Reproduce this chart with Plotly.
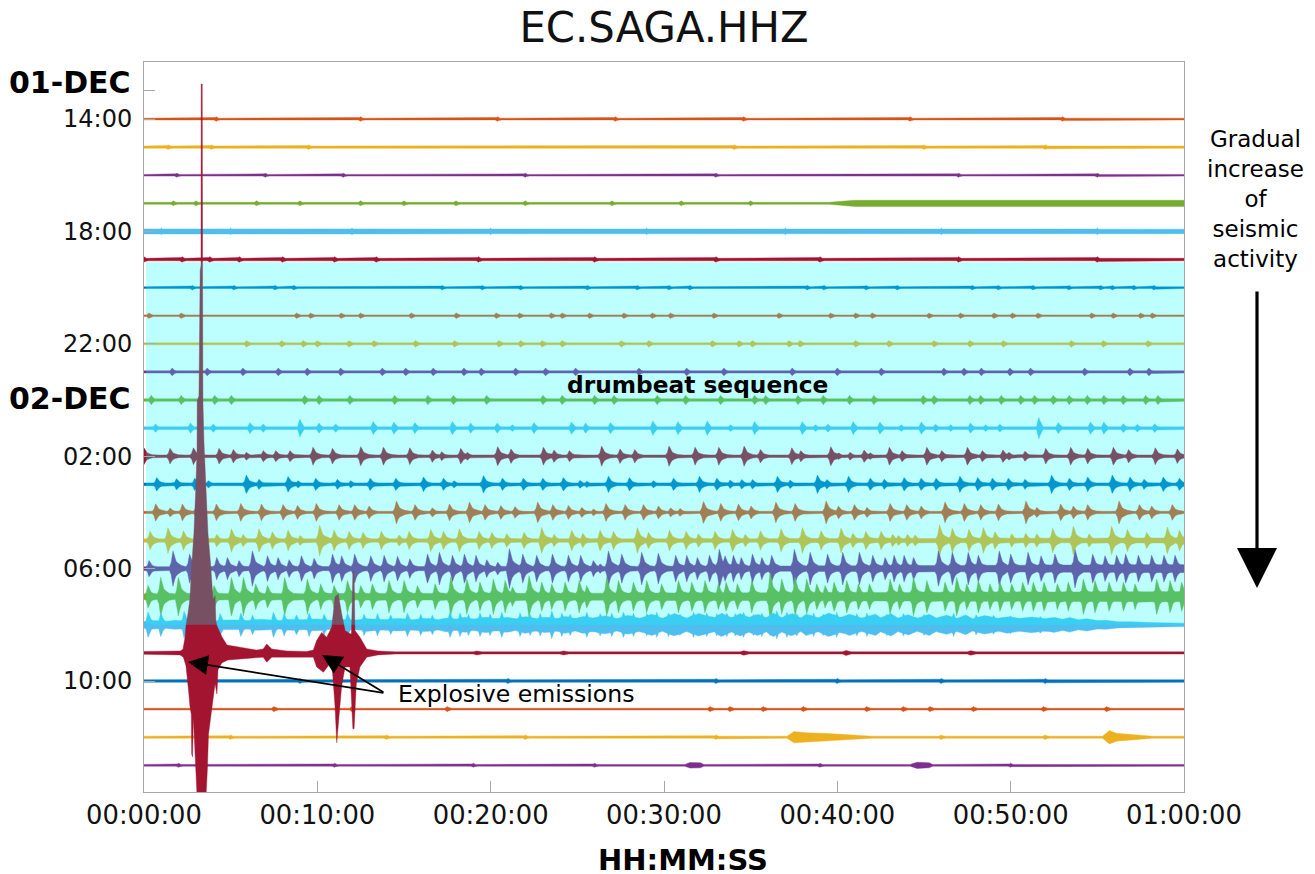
import plotly.graph_objects as go

# ---------- labels ----------
TITLE = "EC.SAGA.HHZ"
X_TICKS = [0, 10, 20, 30, 40, 50, 60]
X_LABELS = ["00:00:00", "00:10:00", "00:20:00", "00:30:00", "00:40:00", "00:50:00", "01:00:00"]
Y_TICKS = [13, 14, 18, 22, 26, 30, 34]
Y_LABELS = ["", "14:00", "18:00", "22:00", "02:00", "06:00", "10:00"]
ROW_COLORS = {0: "#D95319", 1: "#EDB120", 2: "#7E2F8E", 3: "#77AC30", 4: "#4DBEEE", 5: "#A2142F", 6: "#0072BD"}

# ---------- helicorder rows: hour since 01-DEC 00:00 ----------
ROWS = list(range(14, 38))

B32_T = [0, .5, 1.2, 1.8, 2.6, 3.4, 4, 5, 5.9, 6.7, 7.8, 8.4, 9.2, 9.9, 10.7, 11.4, 12.2, 13, 13.8, 14.7, 15.5, 16.3, 17, 17.4, 18, 18.5, 19, 19.7, 20.3, 21, 21.4, 22, 22.6, 23.2, 23.8, 24.3, 24.9, 25.3, 25.9, 26.6, 27.3, 27.9, 28.6, 29.3, 29.9, 30.6, 31.3, 32, 32.9, 33.3, 33.9, 34.4, 34.9, 35.4, 35.9, 36.3, 36.8, 37.4, 37.9, 38.2, 38.9, 39.5, 40.2, 40.7, 41.4, 42.2, 42.5, 43.1, 43.5, 44.1, 44.6, 45.3, 45.7, 46.3, 46.9, 47.4, 47.8, 48.5, 49.3, 49.8, 50.5, 51.2, 52, 52.5, 53, 53.4, 53.9, 54.4, 55, 55.5, 56.2, 57, 58, 59, 60]
B32_A = [.12, .15, .12, .16, .13, .17, .14, .18, .15, .2, .15, .2, .17, .22, .16, .2, .17, .22, .18, .23, .18, .24, .18, .25, .2, .27, .2, .28, .21, .27, .2, .3, .22, .28, .22, .3, .22, .3, .24, .32, .22, .34, .23, .38, .23, .4, .24, .4, .25, .42, .25, .4, .26, .38, .25, .42, .26, .4, .24, .38, .25, .42, .26, .38, .24, .38, .25, .4, .24, .36, .23, .38, .24, .34, .23, .35, .22, .33, .23, .3, .23, .28, .22, .27, .2, .26, .18, .22, .15, .16, .11, .11, .08, .07, .06]

# base half-thickness knots (minute, row units)
BASE = {
    14: ([0, 60], [.03, .03]), 15: ([0, 60], [.04, .04]), 16: ([0, 60], [.03, .03]),
    17: ([0, 39.5, 41, 60], [.035, .035, .11, .11]), 18: ([0, 60], [.09, .08]), 19: ([0, 60], [.045, .045]),
    20: ([0, 60], [.03, .03]), 21: ([0, 60], [.03, .03]), 22: ([0, 60], [.035, .035]),
    23: ([0, 60], [.04, .04]), 24: ([0, 60], [.045, .045]), 25: ([0, 60], [.045, .045]),
    26: ([0, 60], [.045, .045]), 27: ([0, 60], [.05, .05]), 28: ([0, 60], [.04, .04]),
    29: ([0, 30, 60], [.06, .06, .09]), 30: ([0, 30, 60], [.07, .08, .14]), 31: ([0, 30, 60], [.1, .13, .18]),
    32: (B32_T, B32_A),
    34: ([0, 60], [.045, .045]), 35: ([0, 60], [.03, .03]),
    36: ([0, 37.1, 37.5, 38.2, 39.5, 41, 42, 55.3, 55.7, 56.1, 57, 58.2, 60],
        [.035, .035, .2, .16, .13, .07, .035, .035, .24, .14, .09, .035, .035]),
    37: ([0, 31.2, 31.5, 32.1, 32.3, 44.2, 44.6, 45.3, 45.5, 60],
        [.03, .03, .1, .09, .03, .03, .11, .09, .03, .03]),
}

# burst onset times (minutes) and peak half-height (row units)
T14 = [4.17, 12.5, 20.4, 27.2, 34.6, 44.2, 53]
T15 = [1.4, 3.9, 9.5, 34.06, 45, 52]
T16 = [1.9, 7, 11.5, 22, 33, 47, 55]
T17 = [1.7, 3, 6.5, 9, 12.5, 15, 18, 22, 27, 31, 35]
T18 = [1, 5, 12, 20, 29, 37, 46, 55]
T19 = [0, 2.2, 3.8, 5.5, 8, 11, 13.4, 19.3, 26, 33, 39, 47, 55]
T20 = [2.79, 5.19, 7.56, 8.65, 17.21, 19.52, 21.73, 25.58, 28.46, 30.29, 31.5, 38.27, 39.23, 41.67, 43.46, 47.79, 49.29, 51.29, 53.36, 55.19, 55.87, 57.11, 58.27]
T21 = [.29, 2.15, 8.81, 9.62, 11.38, 12.5, 15.42, 18.02, 20.33, 21.67, 23.5, 24.13, 25.71, 27.69, 29.33, 30.38, 32.88, 36.63, 39.62, 41.06, 42.02, 45.29, 47.11, 49.04, 50.1, 51.58, 54.67, 55.92, 57.5, 58.17]
T22 = [5.92, 7.94, 9.19, 10, 11.83, 13.27, 15.67, 17.92, 20.48, 21.73, 22.98, 24.13, 27.54, 29.13, 32.79, 34.33, 35.1, 37.21, 37.85, 41.06, 42.98, 45.58, 47.65, 49.58, 53.5, 55.35, 57.92]
T23 = [1.63, 3.65, 5.71, 7.75, 9.42, 11.35, 13.75, 15.1, 16.69, 18.46, 19.46, 21.44, 23.17, 24.9, 28.56, 31.31, 33.46, 37.4, 40, 42.54, 46.15, 47.31, 48.31, 49.96, 51.15, 54.27, 56.88, 57.98]
T24 = [.42, 2.15, 4.08, 5.04, 9.27, 10.1, 11.88, 14.46, 16.38, 17.85, 19.77, 23.02, 24.13, 26, 27.12, 29.61, 31.25, 33.27, 35.23, 35.87, 37.73, 39.19, 40.71, 42.11, 44.96, 45.58, 47.65, 48.27, 49.46, 50.58, 51.38, 52.46, 53.38, 54.42, 55.38, 56.5, 57.79, 58.5]
SMALL_AMPS = {14: .08, 15: .08, 16: .07, 17: .09, 18: .12, 19: .1, 20: .08, 21: .1, 22: .12, 23: .14, 24: .17}

T25 = [.67, 2.69, 4.0, 6.12, 6.88, 9.0, 10.1, 11.06, 13.23, 14.42, 15.63, 17.79, 18.85, 20.38, 21.25, 22.5, 24.67, 25.48, 26.92, 29.36, 30.81, 32.5, 33.85, 35.23, 37.98, 38.75, 39.46, 40.92, 42.46, 43.69, 44.85, 45.67, 46.54, 47.69, 48.56, 49.38, 51.63, 52.75, 54.61, 55.38, 56.5, 57.31, 58.31]
A25 = [.15, .18, .15, .2, .15, .32, .18, .15, .24, .22, .2, .24, .18, .18, .12, .2, .22, .18, .2, .26, .24, .26, .12, .24, .24, .12, .14, .24, .22, .12, .22, .14, .12, .18, .12, .14, .38, .2, .22, .22, .16, .14, .16]
T26 = [0, 1.5, 2.85, 4.33, 5.15, 5.9, 6.88, 7.6, 8.42, 9.75, 10.87, 12.5, 13.81, 15.33, 16.63, 17.17, 18.27, 18.65, 20.4, 21.17, 23.04, 23.65, 24.54, 26.4, 27.46, 28.31, 30.29, 31.79, 33.16, 34.62, 35.56, 37.37, 37.89, 39.62, 40.07, 40.73, 41.54, 41.89, 43, 43.73, 45.16, 46.02, 47.5, 48.36, 49.55, 49.9, 50.82, 52.02, 53.46, 54.44, 55.92, 56.8, 58.34, 59.61]
A26 = [.3, .28, .3, .28, .24, .14, .2, .2, .2, .32, .28, .34, .32, .3, .22, .16, .28, .14, .34, .26, .32, .22, .2, .36, .26, .24, .36, .32, .32, .36, .24, .3, .2, .34, .12, .14, .22, .12, .32, .2, .32, .2, .32, .2, .22, .14, .18, .28, .32, .28, .32, .24, .3, .26]
T27 = [.73, 1.87, 2.92, 3.71, 5.9, 6.63, 8.31, 8.88, 9.9, 11.15, 11.92, 13.04, 14.52, 16.12, 17.27, 17.88, 19.58, 20.67, 21.88, 23, 24.19, 25.15, 25.54, 26.79, 28, 29.38, 30.54, 32.04, 33.04, 33.81, 34.48, 35.1, 36.54, 37.27, 38.85, 39.39, 40.64, 41.89, 42.7, 43.85, 44.83, 45.69, 47.07, 48.09, 48.94, 49.86, 50.82, 52.36, 53.38, 54.44, 55.86, 56.88, 57.69, 58.8, 59.73]
A27 = [.24, .2, .22, .13, .33, .18, .28, .13, .22, .18, .13, .22, .22, .26, .22, .13, .31, .22, .22, .22, .24, .14, .11, .29, .24, .13, .22, .29, .22, .15, .17, .17, .29, .15, .33, .17, .29, .22, .18, .24, .22, .22, .29, .24, .22, .22, .18, .33, .22, .26, .33, .26, .18, .26, .22]
T28 = [.67, 1.5, 2.21, 2.98, 4.17, 5.58, 6.77, 8.02, 8.85, 9.94, 11.25, 12.15, 12.98, 14.56, 15.63, 16.63, 17.62, 18.77, 19.67, 20.58, 21.4, 22.71, 23.58, 24.48, 25.25, 25.92, 26.65, 27.75, 28.81, 29.67, 30.38, 30.92, 32.27, 33.27, 34.29, 35.02, 36.45, 37.56, 39.35, 40.06, 40.98, 41.7, 43.04, 44, 44.83, 46.21, 47.32, 48.27, 49.29, 50.88, 51.5, 52.88, 53.61, 54.44, 56.25, 57.42, 58.13, 59.32]
A28 = [.31, .16, .3, .16, .3, .32, .3, .28, .25, .32, .28, .28, .23, .41, .28, .16, .3, .37, .28, .25, .21, .37, .28, .25, .18, .12, .32, .28, .28, .23, .16, .14, .39, .32, .3, .23, .37, .32, .41, .23, .28, .18, .32, .28, .23, .37, .32, .28, .3, .41, .18, .3, .23, .28, .41, .28, .23, .28]
T29 = [.35, 1.38, 2.27, 4.19, 5.04, 5.71, 6.63, 7.4, 8.31, 9, 10.13, 10.96, 11.83, 12.63, 13.69, 14.71, 15.29, 16.54, 17.27, 18.19, 19.33, 20.06, 20.92, 21.92, 22.94, 23.65, 24.67, 25.31, 26.31, 27.08, 28.46, 29.1, 30.31, 31.27, 31.98, 32.94, 33.95, 34.68, 35.56, 36.75, 37.98, 39.06, 40.21, 40.89, 41.64, 42.52, 43.18, 43.52, 44.04, 44.48, 45.89, 46.63, 47.59, 48.42, 49.09, 50.05, 50.86, 51.5, 52.42, 53.61, 54.52, 55.82, 56.73, 57.84, 59.03, 59.73]
A29 = [.33, .46, .35, .22, .42, .22, .42, .31, .37, .18, .55, .37, .33, .29, .33, .2, .33, .4, .33, .42, .33, .29, .24, .29, .46, .22, .37, .26, .37, .33, .46, .29, .37, .33, .24, .33, .4, .22, .35, .42, .46, .35, .44, .26, .33, .33, .22, .18, .22, .2, .57, .44, .4, .46, .31, .24, .26, .24, .44, .51, .24, .51, .4, .29, .48, .37]
T30 = [.29, 1.67, 2.63, 4.19, 4.81, 5.48, 6.25, 7.12, 7.73, 8.37, 9.08, 9.81, 10.87, 11.4, 12.15, 13.08, 13.85, 14.62, 15.33, 16.35, 17.04, 17.79, 18.48, 19.15, 19.77, 20.4, 21.08, 21.85, 22.65, 23.56, 24.48, 25.19, 25.92, 26.31, 26.79, 27.56, 28.71, 29.67, 30.67, 31.31, 31.92, 32.62, 33.19, 33.52, 34, 34.45, 35.1, 35.64, 36.21, 37.52, 38.43, 39.43, 40.31, 41.27, 42.04, 42.75, 43.27, 43.85, 44.39, 45.83, 46.63, 47.55, 48.13, 49.34, 50, 51, 51.75, 52.55, 53.71, 54.73, 55.44, 56.11, 56.63, 57.36, 58.13, 58.84, 59.48]
A30 = [.29, .63, .52, .4, .4, .29, .63, .46, .4, .32, .46, .37, .52, .46, .52, .46, .48, .44, .35, .52, .58, .48, .52, .48, .32, .23, .71, .52, .48, .52, .48, .48, .29, .17, .63, .52, .58, .55, .48, .48, .4, .48, .69, .46, .48, .4, .52, .4, .48, .69, .58, .52, .58, .58, .48, .4, .48, .48, .4, .63, .58, .58, .48, .63, .52, .58, .46, .52, .69, .52, .46, .48, .52, .48, .48, .48, .48]
T31 = [.23, .96, 1.98, 4.04, 5.04, 5.73, 6.44, 7.12, 8.11, 9.42, 10.19, 10.96, 11.73, 12.5, 13.17, 14.13, 15, 15.77, 16.79, 17.69, 18.62, 19.38, 20.15, 20.83, 21.25, 22.21, 22.94, 23.52, 24.29, 25.1, 25.54, 26.69, 27.37, 28.23, 29, 29.86, 30.83, 31.6, 32.36, 33.13, 33.58, 34.23, 35.06, 36.12, 36.79, 37.56, 38.23, 38.81, 39.29, 39.81, 40.54, 41.21, 41.85, 43.04, 43.58, 44.39, 45.16, 46.21, 46.88, 47.46, 48.13, 48.8, 49.38, 50.05, 50.69, 51.3, 51.92, 52.69, 53.32, 54.19, 54.86, 55.67, 56.5, 57.17, 58.42, 59.19, 59.86]
A31 = [.4, .69, .69, .4, .69, .69, .46, .4, .69, .63, .46, .4, .58, .4, .46, .58, .58, .4, .46, .69, .63, .52, .63, .58, .35, .75, .52, .46, .52, .58, .4, .69, .58, .52, .58, .46, .58, .52, .58, .46, .52, .46, .58, .86, .63, .69, .63, .46, .4, .52, .58, .46, .46, .63, .46, .69, .58, .52, .69, .46, .58, .46, .52, .46, .52, .52, .52, .46, .52, .63, .58, .52, .52, .46, .63, .58, .52]
T32 = [.23, .96, 2.31, 4.38, 5.58, 6.25, 7.46, 8.08, 8.79, 9.52, 10.38, 10.96, 11.73, 12.69, 13.46, 14.23, 15.19, 15.96, 16.63, 17.65, 18.23, 18.71, 19.38, 19.96, 20.63, 21.69, 22.27, 22.85, 23.52, 24.1, 24.58, 25.54, 26.31, 26.98, 27.65, 28.23, 29, 29.58, 30.25, 30.92, 31.69, 32.46, 33.04, 33.62, 34.1, 34.58, 35.16, 35.64, 36.12, 36.5, 37.08, 37.66, 38.62, 39.19, 39.96, 41.12, 41.7, 42.85, 43.8, 45, 46.7, 48, 49, 50, 51.7]
A32 = [.45, .42, .48, .4, .42, .35, .45, .4, .35, .42, .38, .35, .42, .38, .4, .35, .42, .38, .35, .45, .42, .38, .42, .38, .45, .42, .38, .4, .5, .42, .38, .45, .4, .42, .45, .42, .4, .45, .42, .38, .45, .42, .4, .42, .4, .45, .38, .42, .38, .5, .45, .4, .42, .38, .45, .4, .42, .38, .4, .38, .42, .36, .34, .32, .3]
T34 = [9, 21, 33, 40, 46, 52]
T35 = [7.5, 12, 17.5, 32.66, 33.81, 35.73, 38.04, 41.7, 43.81, 45.35, 47.85, 51.9, 55.54]
T36 = [5, 14, 22, 33, 46, 52]
T37 = [2, 11, 19, 26, 39, 50]

BURSTS = {
    14: (T14, None), 15: (T15, None), 16: (T16, None), 17: (T17, None), 18: (T18, None), 19: (T19, None),
    20: (T20, None), 21: (T21, None), 22: (T22, None), 23: (T23, None), 24: (T24, None),
    25: (T25, A25), 26: (T26, A26), 27: (T27, A27), 28: (T28, A28), 29: (T29, A29),
    30: (T30, A30), 31: (T31, A31), 32: (T32, A32),
    34: (T34, [.09] * len(T34)), 35: (T35, [.09] * len(T35)), 36: (T36, [.08] * len(T36)), 37: (T37, [.07] * len(T37)),
}

# burst outlines: (offset in minutes, fraction of the peak)
BURST_DT = [-.2, -.1, -.04, 0, .05, .1, .18, .3, .5, .85]
BURST_FR = [.05, .35, .75, 1, .85, .62, .42, .3, .18, .07]
BLIP_DT = [-.14, -.06, 0, .06, .14, .24]
BLIP_FR = [.1, .7, 1, .7, .4, .1]

# explosive emissions on the 09:00 row (row 33): upper and lower envelopes
EXPL_UP_T = [0, 2.08, 2.19, 2.25, 2.37, 2.42, 2.54, 2.65, 2.75, 2.88, 3.0, 3.06, 3.07, 3.17, 3.24, 3.29, 3.30, 3.36, 3.38, 3.40, 3.46, 3.58, 3.69, 3.85, 3.98, 4.1, 4.15, 4.21, 4.5, 4.79, 5.35, 5.8, 6.12, 6.5, 6.88, 7.08, 7.37, 8.23, 9.38, 9.77, 9.96, 10.25, 10.54, 10.83, 11.02, 11.21, 11.4, 11.6, 11.88, 11.97, 12.05, 12.12, 12.17, 12.46, 12.85, 13.5, 14.5, 19, 19.2, 19.5, 24, 24.2, 24.5, 34.4, 34.6, 34.9, 40.3, 40.5, 40.8, 47.5, 47.7, 48, 60]
EXPL_UP_A = [.05, .07, .1, .14, .57, .96, 1.42, 1.92, 3.1, 4.27, 6.05, 7.26, 8.97, 9.15, 13.6, 13.8, 20.25, 20.25, 13.6, 8.97, 7.5, 6.05, 4.27, 3.1, 1.92, 2.03, 1.14, .96, .57, .28, .22, .18, .12, .1, .14, .32, .14, .07, .05, .1, .44, .73, .56, .91, 2.0, 2.1, 1.4, .8, .68, .68, 2.9, 2.9, .8, .56, .14, .07, .04, .04, .07, .04, .04, .07, .04, .04, .08, .04, .04, .09, .04, .04, .08, .04, .04]
EXPL_DN_T = [0, 2.08, 2.27, 2.42, 2.57, 2.65, 2.73, 2.75, 2.80, 2.85, 3.0, 3.06, 3.58, 3.66, 3.72, 3.98, 4.1, 4.21, 4.27, 4.5, 4.85, 6.88, 7.08, 7.37, 9.77, 9.96, 10.35, 10.83, 11.02, 11.12, 11.21, 11.4, 11.6, 11.88, 12.05, 12.12, 12.25, 12.46, 12.85, 13.5, 14.5, 19, 19.2, 19.5, 24, 24.2, 24.5, 34.4, 34.6, 34.9, 40.3, 40.5, 40.8, 47.5, 47.7, 48, 60]
EXPL_DN_A = [.05, .07, .15, .46, 1.35, 1.9, 2.2, 3.6, 3.7, 2.3, 4.1, 5.1, 5.1, 4.1, 2.9, 1.7, 1.1, 1.46, .6, .35, .25, .15, .33, .15, .15, .5, .69, .3, 1.9, 3.2, 2.4, 1.2, .5, .5, 2.7, 2.7, 1.1, .5, .15, .07, .04, .04, .07, .04, .04, .07, .04, .04, .08, .04, .04, .09, .04, .04, .08, .04, .04]
assert len(EXPL_UP_T) == len(EXPL_UP_A) and len(EXPL_DN_T) == len(EXPL_DN_A)
assert len(B32_T) == len(B32_A)


def interp(x, xs, ys):
    if x <= xs[0]:
        return ys[0]
    for i in range(1, len(xs)):
        if x <= xs[i]:
            return ys[i - 1] + (ys[i] - ys[i - 1]) * (x - xs[i - 1]) / (xs[i] - xs[i - 1])
    return ys[-1]


def row_envelope(row):
    bt, bh = BASE[row]
    times, amps = BURSTS[row]
    if amps is None:
        amps = [SMALL_AMPS[row]] * len(times)
    assert len(times) == len(amps), row
    dts, frs = (BLIP_DT, BLIP_FR) if row <= 25 or row >= 34 else (BURST_DT, BURST_FR)
    ts = set(bt) | {0.0, 60.0}
    for t in times:
        for d in dts:
            if 0 <= t + d <= 60:
                ts.add(round(t + d, 3))
    ts = sorted(ts)
    env = []
    for x in ts:
        a = interp(x, bt, bh)
        for t, p in zip(times, amps):
            d = x - t
            if dts[0] <= d <= dts[-1]:
                a = max(a, p * interp(d, dts, frs))
        env.append(a)
    return ts, env


fig = go.Figure()


def add_band(row, xu, au, xd, ad):
    c = ROW_COLORS[(row - 14) % 7]
    xs = list(xu) + list(reversed(xd))
    ys = [row - a for a in au] + [row + a for a in reversed(ad)]
    fig.add_trace(go.Scatter(x=xs, y=ys, mode="lines", fill="toself", fillcolor=c,
                             line=dict(color=c, width=0.4), hoverinfo="skip", showlegend=False,
                             name=f"{row % 24:02d}:00"))


for r in ROWS:
    if r == 33:
        continue
    t, e = row_envelope(r)
    add_band(r, t, e, t, e)
add_band(33, EXPL_UP_T, EXPL_UP_A, EXPL_DN_T, EXPL_DN_A)

black = "#000000"


def note(text, x, y, size, bold=False, ref="x", xanchor="center"):
    fig.add_annotation(x=x, y=y, xref=ref, yref="y" if ref == "x" else "paper",
                       text=f"<b>{text}</b>" if bold else text, showarrow=False,
                       xanchor=xanchor, yanchor="middle",
                       font=dict(size=size, color=black, family="DejaVu Sans"))


note("01-DEC", -0.0106, .9726, 30, True, "paper", xanchor="right")
note("02-DEC", -0.0106, .5397, 30, True, "paper", xanchor="right")
note("HH:MM:SS", .518, -.0932, 29, True, "paper")
note("Gradual<br>increase<br>of<br>seismic<br>activity", 1.0692, .8123, 23, False, "paper")
note("drumbeat sequence", 31.93, 23.46, 23.3, True)
note("Explosive emissions", 14.53, 34.46, 23.6, xanchor="left")

for tip_t, tip_r in [(2.54, 33.32), (10.27, 33.07)]:
    fig.add_annotation(x=tip_t, y=tip_r, ax=13.9, ay=34.43, xref="x", yref="y", axref="x", ayref="y",
                       text="", showarrow=True, arrowhead=2, arrowsize=2.2, arrowwidth=1.8, arrowcolor=black)
fig.add_annotation(x=1.0702, y=.2795, ax=0, ay=-298, xref="paper", yref="paper",
                   text="", showarrow=True, arrowhead=2, arrowsize=2.5, arrowwidth=3.2, arrowcolor=black)

fig.add_shape(type="rect", x0=0.12, x1=60, y0=19.1, y1=32.0, xref="x", yref="y", layer="above",
              fillcolor="rgba(0,255,255,0.26)", line=dict(width=0))

axis_style = dict(showgrid=False, zeroline=False, showline=True, mirror=True, linecolor="#a8a8a8", linewidth=1,
                  ticks="inside", ticklen=11, tickcolor="#a8a8a8", tickwidth=1)
fig.update_xaxes(range=[0, 60], tickvals=X_TICKS, ticktext=X_LABELS,
                 tickfont=dict(size=25.8, color="#111111", family="DejaVu Sans"), **axis_style)
fig.update_yaxes(range=[37.95, 11.97], tickvals=Y_TICKS, ticktext=Y_LABELS, ticklabelstandoff=6,
                 tickfont=dict(size=24, color="#111111", family="DejaVu Sans"), **axis_style)
fig.update_layout(
    width=1315, height=874, margin=dict(l=144, r=131, t=62, b=82),
    plot_bgcolor="white", paper_bgcolor="white", showlegend=False,
    title=dict(text=TITLE, x=664 / 1315, xanchor="center", y=1 - 27 / 874, yanchor="middle",
               font=dict(size=41.8, color="#111111", family="DejaVu Sans")),
)
fig.write_html("out.html", config={"displayModeBar": False},
               post_script="document.body.style.margin='0';document.body.style.overflow='hidden';")
